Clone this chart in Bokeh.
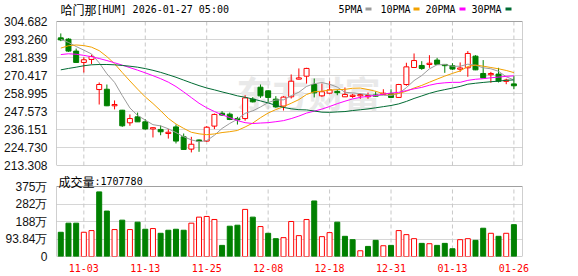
import numpy as np
import pandas as pd
from bokeh.plotting import figure
from bokeh.layouts import column
from bokeh.models import (Range1d, FixedTicker, Label, BoxAnnotation, ColumnDataSource,
                          NumeralTickFormatter)
from bokeh.embed import file_html
from bokeh.resources import INLINE

# ---------------- data ----------------
dates = ["10-29", "10-30", "10-31", "11-03", "11-04", "11-05", "11-06", "11-07", "11-10", "11-11",
         "11-12", "11-13", "11-14", "11-17", "11-18", "11-19", "11-20", "11-21", "11-24", "11-25",
         "11-26", "11-28", "12-01", "12-02", "12-03", "12-04", "12-05", "12-08", "12-09", "12-10",
         "12-11", "12-12", "12-15", "12-16", "12-17", "12-18", "12-19", "12-22", "12-23", "12-24",
         "12-26", "12-29", "12-30", "12-31", "01-02", "01-05", "01-06", "01-07", "01-08", "01-09",
         "01-12", "01-13", "01-14", "01-15", "01-16", "01-20", "01-21", "01-22", "01-23", "01-26"]

opens = [294.3, 293.5, 285.9, 278.7, 280.6, 261.5, 261.7, 251.6, 248.4, 240.4,
         244.2, 241.0, 236.9, 236.2, 234.0, 237.8, 231.5, 223.7, 229.4, 228.8,
         238.3, 246.5, 245.9, 243.0, 243.1, 255.4, 263.0, 260.7, 255.4, 251.0,
         256.9, 268.5, 270.0, 264.7, 257.5, 259.2, 260.2, 256.9, 257.5, 257.9,
         257.0, 258.0, 258.6, 259.0, 256.5, 264.7, 275.5, 276.8, 277.8, 280.2,
         277.3, 276.6, 274.8, 275.3, 282.7, 271.7, 271.3, 271.3, 267.1, 265.1]
highs = [297.1, 294.1, 287.5, 282.0, 283.7, 266.0, 264.7, 254.6, 248.6, 245.7,
         246.9, 242.7, 237.6, 238.7, 236.4, 239.3, 233.6, 231.5, 229.8, 238.3,
         246.3, 247.8, 246.9, 244.2, 257.9, 256.7, 264.7, 261.1, 257.3, 257.3,
         271.1, 274.9, 275.3, 268.5, 265.3, 266.8, 261.5, 262.8, 258.8, 259.0,
         259.6, 260.3, 261.7, 261.7, 265.1, 278.5, 284.4, 279.5, 283.3, 281.6,
         277.6, 278.2, 278.7, 285.9, 283.3, 280.2, 272.7, 275.3, 268.4, 270.2]
lows = [292.2, 285.4, 278.5, 272.3, 277.6, 252.0, 251.0, 248.9, 237.8, 238.5,
        241.0, 236.0, 231.1, 232.5, 230.4, 227.3, 223.3, 221.6, 222.0, 228.3,
        236.4, 244.8, 242.1, 239.3, 241.7, 253.3, 256.2, 253.7, 249.9, 248.2,
        255.8, 267.9, 265.3, 256.5, 256.9, 258.8, 257.9, 256.9, 256.2, 255.6,
        255.6, 257.1, 258.1, 256.4, 256.4, 263.9, 275.3, 274.0, 275.3, 277.4,
        272.1, 274.0, 272.7, 269.6, 273.8, 268.9, 265.8, 266.0, 264.9, 261.7]
closes = [293.0, 285.9, 278.7, 280.4, 282.5, 264.7, 251.2, 251.6, 238.5, 243.1,
          241.0, 236.5, 236.9, 234.7, 234.0, 228.8, 223.5, 226.8, 228.8, 237.6,
          245.7, 245.3, 242.5, 242.3, 256.2, 253.7, 257.5, 256.5, 250.5, 256.7,
          266.8, 268.5, 274.9, 259.4, 260.1, 261.3, 259.6, 258.4, 257.5, 257.9,
          257.6, 257.4, 259.0, 256.5, 264.7, 275.9, 279.9, 274.9, 277.8, 277.5,
          276.8, 274.5, 274.8, 284.4, 274.0, 268.9, 271.3, 266.8, 267.1, 263.9]
# volume in 万 (10k shares)
volumes = [129.9, 178.7, 178.7, 129.9, 139.0, 346.5, 243.6, 144.4, 194.9, 144.4,
           184.1, 146.2, 149.8, 124.5, 140.8, 146.2, 140.8, 178.7, 211.1, 214.7,
           198.5, 59.6, 162.4, 167.8, 252.6, 211.1, 160.6, 124.5, 95.6, 101.1,
           187.7, 111.9, 198.5, 297.8, 106.5, 128.1, 184.1, 108.3, 90.2, 30.7,
           54.1, 86.6, 57.7, 59.6, 139.0, 117.3, 95.6, 70.4, 68.6, 59.6,
           70.4, 41.5, 90.2, 95.6, 86.6, 151.6, 124.5, 108.3, 124.5, 170.778]

# moving-average values before a full window exists
ma5_head = [293.4, 291.4, 288.8, 286.5]
ma10_head = [287.8, 289.3, 289.8, 289.4, 288.4, 286.2, 282.4, 277.9, 272.3]
ma20_head = [283.7, 284.2, 283.9, 283.2, 282.3, 281.2, 279.9, 278.5, 277.0, 275.4,
             273.8, 272.1, 270.3, 268.4, 266.2, 263.4, 260.0, 256.4, 252.8]
ma30_head = [274.0, 274.9, 275.7, 276.6, 277.2, 277.4, 277.4, 277.2, 276.8, 276.3,
             275.7, 274.8, 273.7, 272.4, 270.9, 269.3, 267.5, 265.7, 264.0, 262.5,
             261.3, 260.0, 258.8, 257.5, 256.6, 255.5, 254.3, 253.0, 251.5]

price_ticks = [213.308, 224.730, 236.151, 247.573, 258.995, 270.417, 281.839, 293.260, 304.682]
vol_ticks = [0, 93.84, 187.68, 281.52, 375.36]
vol_tick_labels = ["0", "93.84万", "188万", "282万", "375万"]
date_ticks = ["11-03", "11-13", "11-25", "12-08", "12-18", "12-31", "01-13", "01-26"]

title_name = "哈门那"
title_rest = "[HUM] 2026-01-27 05:00"
ma_names = ["5PMA", "10PMA", "20PMA", "30PMA"]
vol_title = "成交量"
last_volume = "1707780"

# ---------------- derived ----------------
RED = "#ff0000"
GREEN = "#008000"
MA_COLORS = ["#9b9b9b", "#f2a100", "#ff00ff", "#006b33"]

n = len(closes)
x = np.arange(n)
o = np.array(opens); c = np.array(closes); h = np.array(highs); l = np.array(lows)
up = c >= o
top = np.maximum(o, c)
bot = np.minimum(o, c)
thin = (top - bot) < 0.8
mid = (top + bot) / 2
top = np.where(thin, mid + 0.4, top)
bot = np.where(thin, mid - 0.4, bot)
ccolor = np.where(up, RED, GREEN)
cfill = np.where(up, "white", GREEN)

prev = np.concatenate([[o[0]], c[:-1]])
vup = c >= prev
vcolor = np.where(vup, RED, GREEN)
vfill = np.where(vup, "white", GREEN)

cs = pd.Series(closes)
def moving(nwin, head):
    m = cs.rolling(nwin).mean().to_numpy()
    m[:nwin - 1] = head
    return m
mas = [moving(5, ma5_head), moving(10, ma10_head), moving(20, ma20_head), moving(30, ma30_head)]

tick_pos = [dates.index(d) for d in date_ticks]

src = ColumnDataSource(dict(x=x, h=h, l=l, top=top, bot=bot, color=ccolor, fill=cfill))
vsrc = ColumnDataSource(dict(x=x, v=volumes, color=vcolor, fill=vfill))

xr = Range1d(-0.56, 60.12)
GRID = "#d6d6d6"
VGRID = "#c8c8c8"
BORDER = "#a0a0a0"
LABEL_FONT = "Liberation Sans"
MONO = "DejaVu Sans Mono"
CJK = "Noto Sans CJK SC"

# layout in pixels
P_HEAD = 21      # header band above the price panel
P_PANEL = 144    # price panel height
V_HEAD = 14      # band above volume panel (成交量 line)
V_PANEL = 70     # volume panel height

p_lo, p_hi = price_ticks[0], price_ticks[-1]
p_top = p_hi + (p_hi - p_lo) * P_HEAD / P_PANEL
v_lo, v_hi = vol_ticks[0], vol_ticks[-1]
v_top = v_hi + (v_hi - v_lo) * V_HEAD / V_PANEL

def style_axis(ax, font, size, color, standoff):
    ax.axis_line_color = None
    ax.major_tick_line_color = None
    ax.minor_tick_line_color = None
    ax.major_label_standoff = standoff
    ax.major_label_text_font = font
    ax.major_label_text_font_size = size
    ax.major_label_text_color = color

# ---------------- price panel ----------------
p1 = figure(width=578, height=P_HEAD + P_PANEL + 7, x_range=xr, y_range=Range1d(p_lo, p_top),
            x_axis_location=None, toolbar_location=None, output_backend="svg",
            min_border_left=56, min_border_right=56, min_border_top=0, min_border_bottom=7,
            title=None)
p1.outline_line_color = None
p1.background_fill_color = "white"
p1.border_fill_color = "white"
p1.ygrid.ticker = FixedTicker(ticks=price_ticks)
p1.ygrid.grid_line_color = GRID
p1.xgrid.visible = False
ya = p1.yaxis[0]
ya.ticker = FixedTicker(ticks=price_ticks)
ya.formatter = NumeralTickFormatter(format="0.000")
style_axis(ya, LABEL_FONT, "12px", "#111111", 3)

wm = Label(x=236, y=91, x_units="canvas", y_units="canvas", text="东方财富",
           text_font=CJK, text_font_size="36px", text_font_style="bold",
           text_color="#e9e9e9", text_baseline="middle", level="underlay")
p1.add_layout(wm)

p1.segment(x0=tick_pos, y0=p_lo, x1=tick_pos, y1=p_hi, line_color=VGRID, line_dash="4 3")
p1.quad(left=xr.start, right=xr.end, bottom=p_lo, top=p_hi, fill_color=None,
        line_color=BORDER, line_width=1)

p1.segment(x0="x", y0="h", x1="x", y1="l", line_color="color", line_width=1, source=src)
p1.vbar(x="x", width=0.65, top="top", bottom="bot", fill_color="fill",
        line_color="color", line_width=1, source=src)
for m, col in zip(mas, MA_COLORS):
    p1.line(x, m, line_color=col, line_width=1)

p1.add_layout(Label(x=60, y=9, x_units="canvas", y_units="canvas", text=title_name,
                    text_font=CJK, text_font_size="12px", text_color="#000000",
                    text_baseline="middle"))
p1.add_layout(Label(x=96, y=9, x_units="canvas", y_units="canvas", text=title_rest,
                    text_font=MONO, text_font_size="10px", text_color="#000000",
                    text_baseline="middle"))
leg_x = [338, 380, 425, 471]
box_x = [365, 413, 459, 505]
for name, col, lx, bx in zip(ma_names, MA_COLORS, leg_x, box_x):
    p1.add_layout(Label(x=lx, y=9, x_units="canvas", y_units="canvas", text=name,
                        text_font=MONO, text_font_size="10px", text_color="#000000",
                        text_baseline="middle"))
    p1.add_layout(BoxAnnotation(left=bx, right=bx + 6, top=7, bottom=10,
                                left_units="canvas", right_units="canvas",
                                top_units="canvas", bottom_units="canvas",
                                fill_color=col, fill_alpha=1, line_color=None))

# ---------------- volume panel ----------------
p2 = figure(width=578, height=V_HEAD + V_PANEL + 20, x_range=xr, y_range=Range1d(v_lo, v_top),
            toolbar_location=None, output_backend="svg",
            min_border_left=56, min_border_right=56, min_border_top=0, min_border_bottom=20,
            title=None)
p2.outline_line_color = None
p2.background_fill_color = "white"
p2.border_fill_color = "white"
xa = p2.xaxis[0]
xa.ticker = FixedTicker(ticks=tick_pos)
xa.major_label_overrides = {pos: d for pos, d in zip(tick_pos, date_ticks)}
style_axis(xa, MONO, "10px", RED, 1)
ya2 = p2.yaxis[0]
ya2.ticker = FixedTicker(ticks=vol_ticks)
ya2.major_label_overrides = {t: s for t, s in zip(vol_ticks, vol_tick_labels)}
style_axis(ya2, LABEL_FONT, "12px", "#111111", 3)
p2.ygrid.ticker = FixedTicker(ticks=vol_ticks)
p2.ygrid.grid_line_color = GRID
p2.xgrid.visible = False

p2.segment(x0=tick_pos, y0=v_lo, x1=tick_pos, y1=v_hi, line_color=VGRID, line_dash="4 3")
p2.quad(left=xr.start, right=xr.end, bottom=v_lo, top=v_hi, fill_color=None,
        line_color=BORDER, line_width=1)
p2.vbar(x="x", width=0.65, top="v", bottom=0, fill_color="fill", line_color="color",
        line_width=1, source=vsrc)

p2.add_layout(Label(x=58, y=9, x_units="canvas", y_units="canvas", text=vol_title,
                    text_font=CJK, text_font_size="12px", text_color="#000000",
                    text_baseline="middle"))
p2.add_layout(Label(x=94, y=9, x_units="canvas", y_units="canvas", text=":" + last_volume,
                    text_font=MONO, text_font_size="10px", text_color="#000000",
                    text_baseline="middle"))

layout = column(p1, p2, spacing=0)
open("out.html", "w").write(file_html(layout, INLINE))
